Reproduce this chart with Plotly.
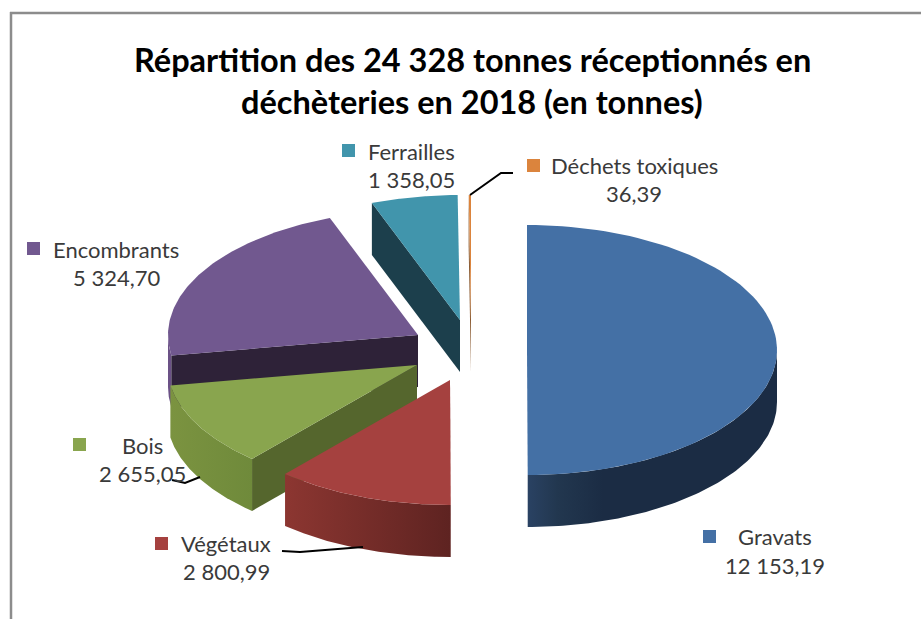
import numpy as np
import plotly.graph_objects as go

# ---- data ----
categories = ["Gravats", "Végétaux", "Bois", "Encombrants", "Ferrailles", "Déchets toxiques"]
values = [12153.19, 2800.99, 2655.05, 5324.70, 1358.05, 36.39]
value_labels = ["12 153,19", "2 800,99", "2 655,05", "5 324,70", "1 358,05", "36,39"]
title_lines = ["Répartition des 24 328 tonnes réceptionnés en", "déchèteries en 2018 (en tonnes)"]

# ---- styles ----
top_colors = ["#4470A5", "#A5413F", "#89A54E", "#71588F", "#4195AC", "#DB843D"]
wall_colors = ["#1B2C44", "#8A3530", "#55662D", "#2E2238", "#1C3F4C", "#8A5A30"]
rim_scales = [
    [[0, "#2A4263"], [0.12, "#22374F"], [0.3, "#1B2C44"], [1, "#1B2C44"]],
    [[0, "#8C3631"], [1, "#5E2321"]],
    [[0, "#7B9340"], [1, "#6F8A3B"]],
    [[0, "#6B5186"], [1, "#6B5186"]],
    [[0, "#1C3F4C"], [1, "#1C3F4C"]],
    [[0, "#8A5A30"], [1, "#8A5A30"]],
]
apex = [(527, 350), (450, 380), (417, 365), (418, 335), (460, 320), (471, 320)]
label_pos = [(775, 536, 565), (226, 543, 571), (142, 445, 473), (116, 249, 277), (411, 151, 179), (634, 165, 193)]
key_pos = [(709.5, 536.5), (161.5, 543.5), (79.5, 444.5), (33.5, 248.5), (348.5, 150.5), (533.5, 165.5)]
leaders = {
    "Bois": ([172, 185, 200], [480, 483, 477]),
    "Végétaux": ([282, 300, 363], [551, 552, 547]),
    "Déchets toxiques": ([470, 501, 513], [195, 173, 173]),
}
RX, RY, DEPTH = 250, 125, 52
FONT = "Lato, Carlito, Calibri, sans-serif"
TEXT = "#3A3A3A"

# ---- angles from the data ----
total = sum(values)
edges = np.concatenate([[0], np.cumsum(values)]) / total * 2 * np.pi


def arc(i, a, b, n=90):
    t = np.linspace(a, b, n)
    cx, cy = apex[i]
    return cx + RX * np.sin(t), cy - RY * np.cos(t)


fig = go.Figure()


def poly(x, y, name, **kw):
    fig.add_trace(go.Scatter(x=list(x), y=list(y), mode="lines", fill="toself",
                             line=dict(width=0), hoverinfo="name", name=name,
                             showlegend=False, **kw))


# back to front: the pull-out order of the reference
for i in [5, 4, 3, 2, 1, 0]:
    x, y = arc(i, edges[i], edges[i + 1])
    cx, cy = apex[i]
    name = categories[i]
    # outer rim: only the part of the arc that faces the viewer
    a, b = max(edges[i], np.pi / 2), min(edges[i + 1], 3 * np.pi / 2)
    if b > a:
        rx, ry = arc(i, a, b)
        poly(np.r_[rx, rx[::-1]], np.r_[ry, ry[::-1] + DEPTH], name,
             fillcolor=rim_scales[i][-1][1],
             fillgradient=dict(type="horizontal", colorscale=rim_scales[i]))
    # cut wall at the start angle
    poly([cx, x[0], x[0], cx], [cy, y[0], y[0] + DEPTH, cy + DEPTH], name, fillcolor=wall_colors[i])
    # top face
    poly(np.r_[cx, x], np.r_[cy, y], name, fillcolor=top_colors[i])

# leader lines
for name, (lx, ly) in leaders.items():
    fig.add_trace(go.Scatter(x=lx, y=ly, mode="lines", line=dict(color="#000000", width=2),
                             hoverinfo="skip", showlegend=False))

# legend keys
for i, (kx, ky) in enumerate(key_pos):
    fig.add_trace(go.Scatter(x=[kx], y=[ky], mode="markers", hoverinfo="skip", showlegend=False,
                             marker=dict(symbol="square", size=13, color=top_colors[i], line=dict(width=0))))

# labels
ann = []
for i, (lx, y1, y2) in enumerate(label_pos):
    for txt, yy in ((categories[i], y1), (value_labels[i], y2)):
        ann.append(dict(x=lx, y=yy, text=txt, showarrow=False, xanchor="center", yanchor="middle",
                        font=dict(family=FONT, size=22, color=TEXT)))
for txt, yy in zip(title_lines, (59, 101)):
    ann.append(dict(x=472, y=yy, text="<b>" + txt + "</b>", showarrow=False, xanchor="center",
                    yanchor="middle", font=dict(family=FONT, size=32.5, color="#000000")))

shapes = [
    dict(type="line", x0=11, x1=11, y0=12, y1=619, line=dict(color="#8C8C8C", width=2.5)),
    dict(type="line", x0=10, x1=921, y0=13, y1=13, line=dict(color="#8C8C8C", width=2.5)),
]

fig.update_layout(
    width=921, height=619, margin=dict(l=0, r=0, t=0, b=0),
    paper_bgcolor="#FFFFFF", plot_bgcolor="#FFFFFF",
    xaxis=dict(range=[0, 921], visible=False, fixedrange=True),
    yaxis=dict(range=[619, 0], visible=False, fixedrange=True),
    annotations=ann, shapes=shapes, showlegend=False,
)
fig.write_html("out.html", config={"displayModeBar": False},
               post_script="document.body.style.margin='0';document.body.style.overflow='hidden';")
